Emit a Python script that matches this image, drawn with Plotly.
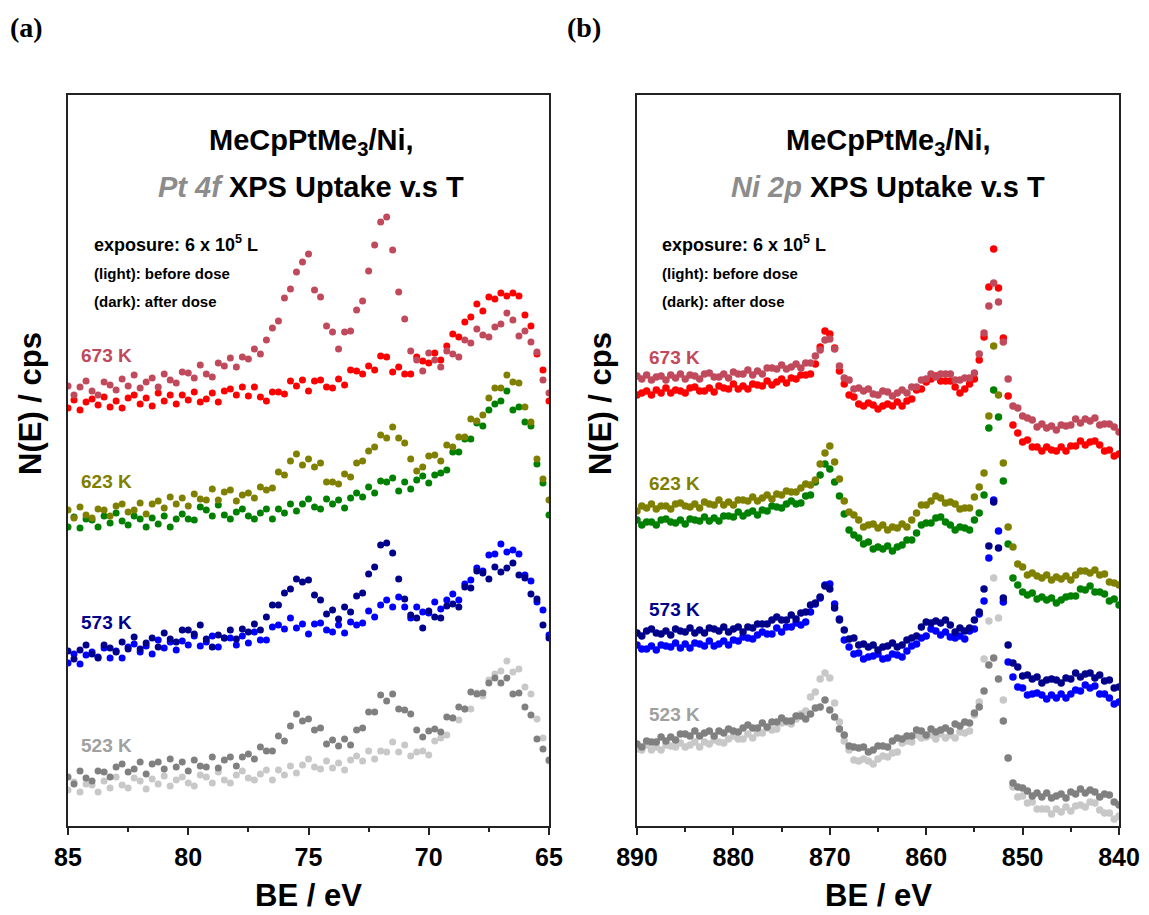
import plotly.graph_objects as go

# ---------------- data: panel (a) Pt 4f, BE grid 85 -> 65 eV ----------------
be_a = [85 - 0.25 * i for i in range(81)]

a673_after = [440,431,439,445,435,431,444,441,436,447,
              440,451,438,444,448,439,452,446,443,454,
              453,448,461,452,449,463,460,468,459,469,
              467,477,472,486,498,505,528,537,554,564,
              572,536,529,500,494,477,494,495,516,525,
              555,581,604,609,576,534,507,475,466,455,
              473,466,459,475,472,469,486,483,497,491,
              489,499,502,513,506,490,495,484,474,446,
              433]
a673_before = [418,426,416,424,427,421,429,419,425,418,
               428,431,422,428,420,433,425,431,422,431,
               426,434,424,427,433,424,435,437,431,439,
               430,439,429,425,434,434,432,445,440,446,
               435,445,446,439,438,447,441,456,455,452,
               460,456,470,469,454,459,452,452,469,465,
               463,473,466,480,492,489,504,509,522,515,
               529,527,533,530,533,530,511,500,472,456,
               425]
a623_after = [316,308,319,311,308,317,316,310,320,322,
              314,316,323,312,322,325,318,329,322,328,
              320,332,327,326,337,326,334,336,325,331,
              333,328,339,336,338,354,351,365,372,361,
              367,359,363,344,344,342,352,349,363,365,
              375,379,391,388,399,388,383,367,355,359,
              370,371,365,381,379,389,389,407,405,411,
              428,438,438,451,444,443,419,404,367,347,
              326]
a623_before = [299,309,298,307,306,299,310,303,313,305,
               301,310,307,299,308,302,310,299,307,312,
               307,306,319,316,310,321,311,307,314,317,
               310,307,313,317,307,317,313,322,315,322,
               327,319,317,327,322,326,318,328,333,329,
               339,333,345,344,348,335,344,337,346,350,
               343,351,353,356,374,374,387,387,403,400,
               416,422,425,435,416,419,404,400,362,343,
               311]
a573_after = [175,167,176,181,172,168,181,178,174,184,
              177,189,177,183,188,179,193,187,184,196,
              196,192,201,187,179,191,188,196,187,197,
              194,202,196,209,221,221,233,237,247,244,
              246,231,226,212,216,207,219,214,230,233,
              252,259,281,283,273,247,227,211,208,198,
              215,209,208,220,222,219,239,238,255,253,
              247,259,254,258,263,251,248,232,227,201,
              188]
a573_before = [163,172,162,171,174,169,178,168,175,168,
               179,182,174,180,172,186,178,184,176,185,
               181,190,180,184,190,179,188,188,181,190,
               183,194,186,186,199,201,197,208,198,202,
               192,202,203,196,194,201,193,204,201,203,
               215,209,221,226,219,229,219,208,219,214,
               213,224,217,226,232,226,242,246,258,255,
               271,272,282,274,276,272,251,245,224,216,
               191]
a523_after = [49,42,55,48,45,55,54,49,59,62,
              54,57,64,52,62,64,57,67,59,64,
              55,66,60,59,69,58,66,69,60,69,
              72,67,79,75,75,90,85,100,112,105,
              107,96,98,82,86,80,87,81,96,98,
              114,114,131,125,132,117,116,112,96,89,
              95,97,94,109,108,119,117,134,132,133,
              143,148,143,148,132,133,119,111,87,77,
              66]
a523_before = [36,44,34,42,41,34,45,38,49,41,
               38,48,45,37,47,42,50,40,46,49,
               43,40,51,49,43,54,46,43,51,55,
               48,46,52,56,46,56,51,60,53,61,
               67,59,57,65,58,63,56,66,70,65,
               75,67,75,74,84,74,81,70,74,75,
               71,85,88,91,108,106,117,117,133,130,
               146,152,155,165,154,157,139,132,107,88,
               65]

# ---------------- data: panel (b) Ni 2p, BE grid 890 -> 840 eV ----------------
be_b = [890 - 0.5 * j for j in range(101)]

b673_after = [450,447,451,446,449,450,446,451,448,452,
              447,451,450,447,452,453,449,449,452,448,
              454,452,452,456,451,455,452,458,458,457,
              461,457,459,462,458,463,463,470,476,486,
              487,477,460,448,446,437,438,435,437,432,
              431,435,434,430,433,436,433,439,439,446,
              447,452,449,452,452,452,446,446,448,448,
              453,472,493,520,543,524,484,447,420,418,
              410,408,406,399,402,398,400,396,401,400,
              401,407,403,407,405,408,401,402,402,399,
              394]
b673_before = [431,433,435,431,436,433,438,433,436,435,
               433,438,439,435,435,438,434,440,438,437,
               442,437,440,437,442,441,440,445,441,444,
               447,443,448,447,451,451,452,462,479,495,
               492,478,455,442,431,429,422,420,423,421,
               417,420,422,420,424,420,425,427,436,437,
               444,447,450,445,445,445,439,433,437,442,
               447,466,489,539,577,538,488,430,401,393,
               384,386,379,379,375,379,376,375,379,375,
               380,380,385,381,384,385,381,375,376,370,
               372]
b623_after = [315,320,318,322,317,320,320,317,322,323,
              320,319,322,318,324,322,321,326,321,324,
              321,326,326,325,329,325,328,331,327,332,
              331,335,334,334,338,342,341,346,362,373,
              380,364,347,325,314,311,306,299,301,302,
              298,301,296,299,298,302,299,306,313,321,
              321,325,330,328,323,324,322,317,318,318,
              329,339,353,410,480,431,363,299,279,262,
              259,251,253,250,248,251,246,249,247,250,
              246,251,255,255,253,256,251,252,244,243,
              241]
b623_before = [306,301,304,304,301,306,307,304,303,306,
               302,307,306,305,309,305,308,305,310,310,
               309,314,310,313,315,311,316,315,320,319,
               318,322,325,322,323,330,331,344,351,362,
               357,344,330,312,296,291,288,282,284,277,
               279,277,280,275,279,281,286,286,293,301,
               303,303,308,309,304,301,296,299,298,296,
               306,313,331,398,436,409,345,282,248,241,
               234,231,233,227,229,226,228,223,226,229,
               230,230,237,236,240,234,234,232,225,227,
               221]
b573_after = [193,190,195,197,193,192,195,191,197,195,
              194,198,193,196,193,198,197,195,199,194,
              197,199,194,199,198,202,202,202,206,209,
              206,206,211,207,213,214,221,223,229,240,
              237,218,206,196,187,188,181,182,179,181,
              176,179,180,183,179,181,186,188,190,199,
              204,203,205,203,206,201,194,198,195,198,
              206,214,237,280,324,278,228,181,163,159,
              150,151,147,149,143,146,147,146,143,148,
              147,153,149,152,153,148,151,145,146,138,
              139]
b573_before = [181,177,177,180,176,181,180,179,183,178,
               182,178,183,182,180,185,180,182,185,181,
               186,185,189,188,187,191,194,192,192,198,
               194,199,199,203,201,204,214,222,228,241,
               242,222,207,186,179,172,173,167,169,170,
               172,167,168,172,171,169,175,180,182,188,
               190,197,195,191,194,189,188,190,187,195,
               197,212,225,268,326,295,224,164,149,139,
               138,131,132,133,131,127,131,128,132,128,
               132,136,135,141,138,140,132,132,128,122,
               124]
b523_after = [82,79,85,84,84,89,85,89,86,92,
              92,90,95,90,93,95,90,95,93,97,
              95,94,98,101,98,98,103,99,104,104,
              108,105,105,110,110,107,112,118,119,126,
              116,109,97,91,80,79,78,79,74,76,
              80,80,79,85,88,87,90,90,96,95,
              91,97,94,96,98,95,102,100,104,103,
              113,119,135,161,168,147,105,68,43,39,
              38,35,30,33,29,33,28,30,32,28,
              34,32,37,33,36,34,29,32,31,24,
              21]
b523_before = [77,76,81,76,79,76,81,80,79,83,
               79,81,84,79,84,82,86,84,83,87,
               90,87,87,92,88,93,93,98,96,97,
               103,104,102,107,112,115,129,134,147,153,
               148,123,104,85,76,66,65,67,65,62,
               67,70,69,73,74,83,85,84,91,88,
               89,91,87,92,88,91,88,94,93,95,
               111,124,167,205,248,208,126,68,39,29,
               30,23,24,17,17,17,12,17,14,19,
               15,20,21,19,24,23,16,13,13,7,
               10]

temps = ["523 K", "573 K", "623 K", "673 K"]
col_before = ["#c8c8c8", "#0000ff", "#008000", "#ff0000"]
col_after = ["#808080", "#00008b", "#808000", "#c04a5c"]
col_label = ["#a0a0a0", "#00008b", "#808000", "#c04a5c"]

a_before = [a523_before, a573_before, a623_before, a673_before]
a_after = [a523_after, a573_after, a623_after, a673_after]
b_before = [b523_before, b573_before, b623_before, b673_before]
b_after = [b523_after, b573_after, b623_after, b673_after]

W, H = 1149, 915
FONT = "Liberation Sans, Arial, sans-serif"

fig = go.Figure()
for k in range(4):
    for ys, col in ((a_before[k], col_before[k]), (a_after[k], col_after[k])):
        fig.add_trace(go.Scatter(x=be_a, y=ys, mode="markers", xaxis="x", yaxis="y",
                                 marker=dict(size=7, color=col), showlegend=False,
                                 hoverinfo="skip"))
    for ys, col in ((b_before[k], col_before[k]), (b_after[k], col_after[k])):
        fig.add_trace(go.Scatter(x=be_b, y=ys, mode="markers", xaxis="x2", yaxis="y2",
                                 marker=dict(size=7.5, color=col), showlegend=False,
                                 hoverinfo="skip"))

def px(x):
    return x / W

def py(y):
    return 1 - y / H

ydom = [py(826), py(95)]
axis_common = dict(showline=True, linewidth=2, linecolor="#222", mirror=True,
                   showgrid=False, zeroline=False, automargin=False)
xcommon = dict(axis_common, ticks="outside", ticklen=7, tickwidth=2, tickcolor="#222",
               ticklabelstandoff=1,
               tickfont=dict(family=FONT, size=25, color="black", weight="bold"))

fig.update_layout(
    width=W, height=H, margin=dict(l=0, r=0, t=0, b=0, pad=0, autoexpand=False),
    paper_bgcolor="white", plot_bgcolor="white",
    xaxis=dict(xcommon, domain=[px(68), px(549)], range=[85, 65],
               tickvals=[85, 80, 75, 70, 65],
               minor=dict(tickvals=[82.5, 77.5, 72.5, 67.5], ticks="outside",
                          ticklen=4, tickwidth=2, tickcolor="#222"),
               anchor="y"),
    yaxis=dict(axis_common, domain=ydom, range=[0, 731], showticklabels=False,
               ticks="", anchor="x"),
    xaxis2=dict(xcommon, domain=[px(637), px(1119)], range=[890, 840],
                tickvals=[890, 880, 870, 860, 850, 840],
                minor=dict(tickvals=[885, 875, 865, 855, 845], ticks="outside",
                           ticklen=4, tickwidth=2, tickcolor="#222"),
                anchor="y2"),
    yaxis2=dict(axis_common, domain=ydom, range=[0, 731], showticklabels=False,
                ticks="", anchor="x2"),
)

ann = []

def add(text, x, y, size, color="black", xanchor="center", family=FONT, angle=0, weight="bold"):
    ann.append(dict(text=text, x=px(x), y=py(y), xref="paper", yref="paper",
                    showarrow=False, xanchor=xanchor, yanchor="middle", textangle=angle,
                    font=dict(family=family, size=size, color=color, weight=weight)))

# panel labels
add("(a)", 8, 28, 28, xanchor="left", family="Liberation Serif, Times New Roman, serif")
add("(b)", 565, 28, 28, xanchor="left", family="Liberation Serif, Times New Roman, serif")

# titles inside panels
for cx, core in ((311, "Pt 4f"), (888, "Ni 2p")):
    add("MeCpPtMe<sub>3</sub>/Ni,", cx, 142, 29)
    add('<i><span style="color:#8c8c8c">' + core + '</span></i> XPS Uptake v.s T', cx, 187, 29)

# exposure notes
for x0 in (92, 660):
    add("exposure: 6 x 10<sup>5</sup> L", x0, 243, 18, xanchor="left")
    add("(light): before dose", x0, 273, 15, xanchor="left")
    add("(dark): after dose", x0, 302, 15, xanchor="left")

# temperature labels
a_lab_y = [745, 622, 482, 355]
b_lab_y = [714, 609, 483, 357]
for k in range(4):
    add(temps[k], 79, a_lab_y[k], 19, color=col_label[k], xanchor="left")
    add(temps[k], 647, b_lab_y[k], 19, color=col_label[k], xanchor="left")

# axis titles
add("BE / eV", 308, 895, 31)
add("BE / eV", 878, 895, 31)
add("N(E) / cps", 30, 404, 31, angle=-90)
add("N(E) / cps", 600, 404, 31, angle=-90)

fig.update_layout(annotations=ann)
fig.write_html("out.html")
